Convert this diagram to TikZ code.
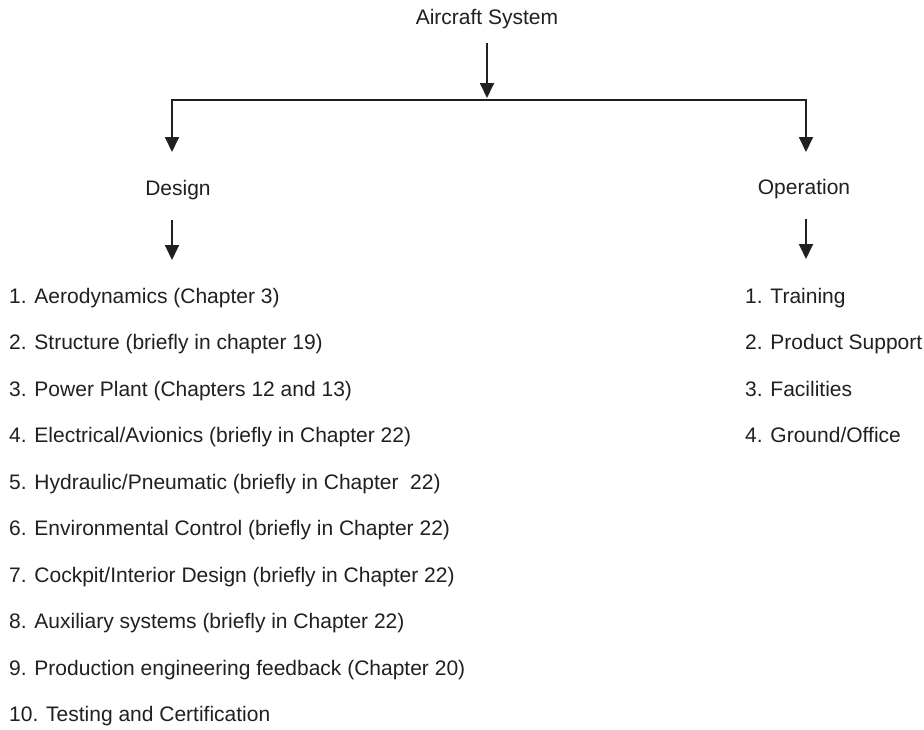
\documentclass[tikz,border=0pt]{standalone}
\usepackage{fontspec}
\setmainfont{Liberation Sans}
\usetikzlibrary{arrows.meta}
\definecolor{ink}{HTML}{231F20}
\begin{document}
\begin{tikzpicture}[x=1pt,y=-1pt,
  txt/.style={inner sep=0pt,text=ink,font=\fontsize{21}{25}\selectfont},
  item/.style={txt,anchor=base west},
  conn/.style={draw=ink,line width=1.8pt,line join=miter},
  tip/.style={-{Triangle[width=14pt,length=15pt]}},
  bothtip/.style={{Triangle[width=14pt,length=15pt]}-{Triangle[width=14pt,length=15pt]}}]
\useasboundingbox (0,0) rectangle (924,729);
\fill[white] (0,0) rectangle (924,729);

\node[txt,anchor=base] (sys) at (487,24) {Aircraft System};
\node[txt,anchor=base] (des) at (178,195) {Design};
\node[txt,anchor=base] (ope) at (804,194) {Operation};

\coordinate (s0) at (487,43);
\coordinate (s1) at (487,98);
\coordinate (lt) at (172,152);
\coordinate (rc) at (806,100);
\coordinate (rt) at (806,152);
\coordinate (d0) at (172,220);
\coordinate (d1) at (172,260);
\coordinate (o0) at (806,219);
\coordinate (o1) at (806,259);

\draw[conn,tip] (s0) -- (s1);
\draw[conn,bothtip] (lt) |- (rc) -- (rt);
\draw[conn,tip] (d0) -- (d1);
\draw[conn,tip] (o0) -- (o1);

\foreach \t [count=\i] in {
  {1. Aerodynamics (Chapter 3)},
  {2. Structure (briefly in chapter 19)},
  {3. Power Plant (Chapters 12 and 13)},
  {4. Electrical/Avionics (briefly in Chapter 22)},
  {5. Hydraulic/Pneumatic (briefly in Chapter~~22)},
  {6. Environmental Control (briefly in Chapter 22)},
  {7. Cockpit/Interior Design (briefly in Chapter 22)},
  {8. Auxiliary systems (briefly in Chapter 22)},
  {9. Production engineering feedback (Chapter 20)},
  {10. Testing and Certification}}
  \node[item] (d\i) at (9,{303+46.55*(\i-1)}) {\t};

\foreach \t [count=\i] in {
  {1. Training},
  {2. Product Support},
  {3. Facilities},
  {4. Ground/Office}}
  \node[item] (op\i) at (745,{303+46.55*(\i-1)}) {\t};
\end{tikzpicture}
\end{document}
